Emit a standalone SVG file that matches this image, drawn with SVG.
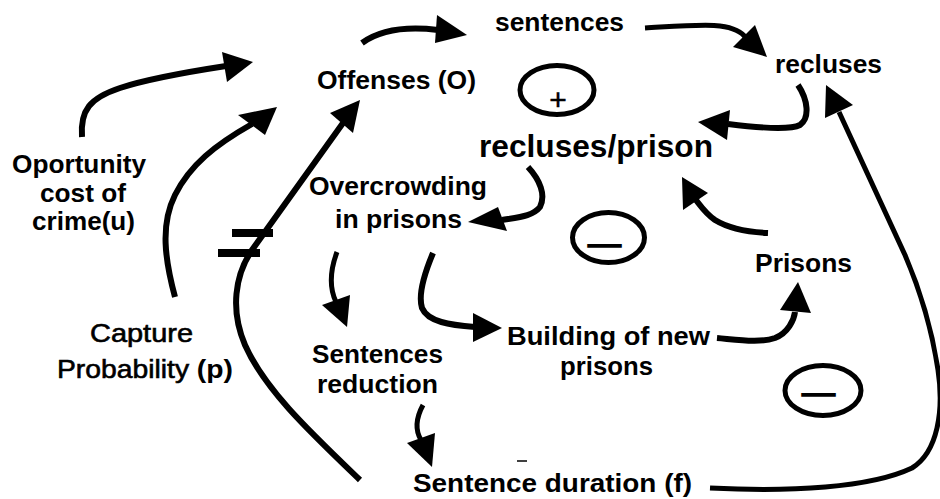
<svg xmlns="http://www.w3.org/2000/svg" width="940" height="499" viewBox="0 0 940 499">
<style>
text{font-family:"Liberation Sans",Arial,Helvetica,sans-serif;font-weight:bold;font-size:26px;fill:#000;text-anchor:middle}
.lt{font-weight:normal;stroke:#000;stroke-width:0.6}
.big{font-size:32px}
.sign{font-weight:normal;stroke:#000;stroke-width:1.6}
.plus{font-weight:normal;stroke:#000;stroke-width:0.5}
.c{fill:none;stroke:#000;stroke-width:6;stroke-linecap:butt}
.t{stroke-width:5}
.ah{fill:#000;stroke:none}
.loop{fill:none;stroke:#000;stroke-width:5}
</style>
<rect width="940" height="499" fill="#fff"/>

<g id="connectors">
  <path class="c" d="M82,137 C80,110 90,98 120,88 S200,70 226,66"/>
  <polygon class="ah" points="222,52 253,62 227,82"/>

  <path class="c" d="M175,297 C165,260 160,225 175,195 C190,165 215,145 252,124"/>
  <polygon class="ah" points="238,115 277,107 265,135"/>

  <path class="c" d="M360,480 C310,432 265,390 245,345 C230,310 235,275 252,250 L343,123"/>
  <polygon class="ah" points="330,113 360,100 353,133"/>
  <rect x="232" y="229" width="41" height="8"/>
  <rect x="218" y="249" width="42" height="8"/>

  <path class="c" d="M362,43 C380,30 405,26 438,30"/>
  <polygon class="ah" points="437,15 467,35 435,43"/>

  <path class="c t" d="M645,28 C680,26 705,24 720,26 C735,28 742,32 746,38"/>
  <polygon class="ah" points="733,47 767,57 755,25"/>

  <path class="c" d="M798,85 C808,100 810,118 800,125 C790,130 760,128 728,124"/>
  <polygon class="ah" points="730,110 698,122 727,140"/>

  <path class="c t" d="M710,488 C790,492 870,488 912,468 C938,452 944,410 938,370 C932,330 920,290 905,255 L839,112"/>
  <polygon class="ah" points="825,118 826,85 853,105"/>

  <path class="c" d="M528,167 C540,180 546,195 540,207 C533,216 520,217 502,220"/>
  <polygon class="ah" points="498,207 468,222 507,231"/>

  <path class="c" d="M768,233 C745,232 728,228 715,220 C705,213 700,205 696,200"/>
  <polygon class="ah" points="682,177 708,193 683,210"/>

  <path class="c t" d="M337,252 C331,268 328,285 336,302"/>
  <polygon class="ah" points="322,305 347,327 350,295"/>

  <path class="c" d="M433,253 C425,272 418,295 422,308 C428,322 450,325 475,327"/>
  <polygon class="ah" points="473,313 502,328 473,342"/>

  <path class="c" d="M717,338 C740,340 760,343 775,338 C788,333 794,320 795,312"/>
  <polygon class="ah" points="780,310 798,282 811,313"/>

  <path class="c t" d="M423,405 C416,418 415,430 421,440"/>
  <polygon class="ah" points="407,443 432,467 435,433"/>

  <line x1="517" y1="461" x2="527" y2="461" stroke="#000" stroke-width="1.5"/>
</g>

<g id="loop-plus">
  <ellipse class="loop" cx="557" cy="90" rx="37" ry="24.5"/>
  <text class="plus" x="558" y="110" style="font-size:30px">+</text>
</g>
<g id="loop-minus-1">
  <ellipse class="loop" cx="608.5" cy="237.5" rx="36" ry="25"/>
  <text class="sign" x="604.5" y="254" style="font-size:33px">—</text>
</g>
<g id="loop-minus-2">
  <ellipse class="loop" cx="823" cy="390.5" rx="38" ry="25"/>
  <text class="sign" x="818.5" y="403" style="font-size:33px">—</text>
</g>

<g id="sentences"><text x="559.5" y="31" textLength="129" lengthAdjust="spacingAndGlyphs">sentences</text></g>
<g id="recluses"><text x="828.5" y="73" textLength="107" lengthAdjust="spacingAndGlyphs">recluses</text></g>
<g id="offenses"><text x="396.5" y="89" textLength="159" lengthAdjust="spacingAndGlyphs">Offenses (O)</text></g>
<g id="recluses-prison"><text class="big" x="596" y="157" textLength="234" lengthAdjust="spacingAndGlyphs">recluses/prison</text></g>
<g id="opportunity-cost">
  <text x="79" y="173" textLength="134" lengthAdjust="spacingAndGlyphs">Oportunity</text>
  <text x="83" y="202" textLength="86" lengthAdjust="spacingAndGlyphs">cost of</text>
  <text x="83.5" y="230" textLength="103" lengthAdjust="spacingAndGlyphs">crime(u)</text>
</g>
<g id="overcrowding">
  <text x="398" y="195" textLength="178" lengthAdjust="spacingAndGlyphs">Overcrowding</text>
  <text x="398.5" y="228" textLength="127" lengthAdjust="spacingAndGlyphs">in prisons</text>
</g>
<g id="capture-probability">
  <text class="lt" x="141.5" y="342" textLength="103" lengthAdjust="spacingAndGlyphs">Capture</text>
  <text x="145" y="378" textLength="176" lengthAdjust="spacingAndGlyphs"><tspan class="lt">Probability </tspan>(p)</text>
</g>
<g id="sentences-reduction">
  <text x="377.5" y="363" textLength="131" lengthAdjust="spacingAndGlyphs">Sentences</text>
  <text x="377.5" y="393" textLength="121" lengthAdjust="spacingAndGlyphs">reduction</text>
</g>
<g id="building-new-prisons">
  <text x="608.5" y="345" textLength="203" lengthAdjust="spacingAndGlyphs">Building of new</text>
  <text x="606.5" y="375" textLength="93" lengthAdjust="spacingAndGlyphs">prisons</text>
</g>
<g id="prisons"><text x="803.5" y="272" textLength="97" lengthAdjust="spacingAndGlyphs">Prisons</text></g>
<g id="sentence-duration"><text x="552.5" y="492" textLength="279" lengthAdjust="spacingAndGlyphs">Sentence duration (f)</text></g>
</svg>
